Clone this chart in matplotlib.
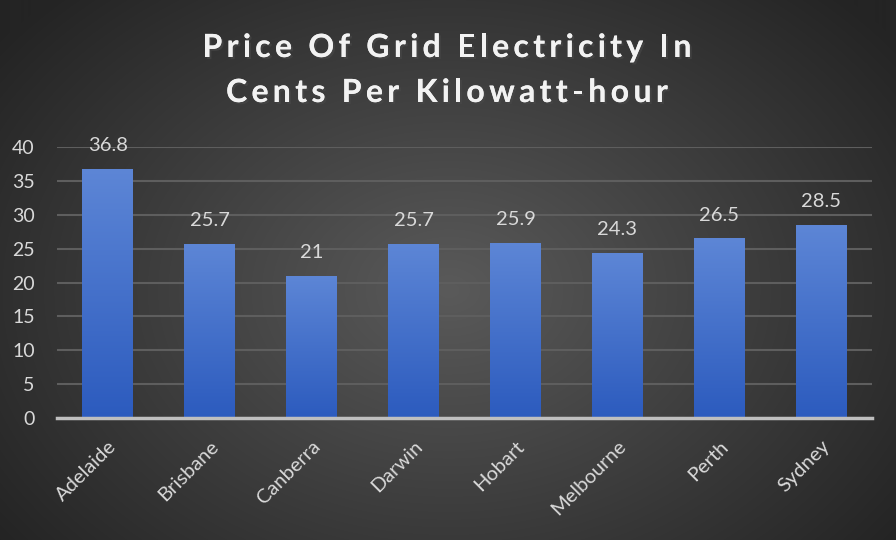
import numpy as np
import matplotlib.pyplot as plt
import matplotlib.patheffects as pe
from matplotlib.transforms import IdentityTransform

cities = ['Adelaide', 'Brisbane', 'Canberra', 'Darwin', 'Hobart', 'Melbourne', 'Perth', 'Sydney']
prices = [36.8, 25.7, 21, 25.7, 25.9, 24.3, 26.5, 28.5]
labels = ['36.8', '25.7', '21', '25.7', '25.9', '24.3', '26.5', '28.5']
yticks = [0, 5, 10, 15, 20, 25, 30, 35, 40]
title_lines = ['Price Of Grid Electricity In', 'Cents Per Kilowatt-hour']

plt.rcParams['font.family'] = ['Lato', 'DejaVu Sans']
txt = '#d9d9d9'

fig = plt.figure(figsize=(8.96, 5.4), dpi=100)

# radial gradient background
bg = fig.add_axes([0, 0, 1, 1])
yy, xx = np.mgrid[0:540, 0:896]
r = np.sqrt(((xx - 448) / 448.0) ** 2 + ((yy - 290) / 330.0) ** 2)
r = np.clip(r / 1.25, 0, 1)
c0 = np.array([0x5a, 0x5a, 0x5a]) / 255.0
c1 = np.array([0x24, 0x24, 0x24]) / 255.0
img = c0[None, None, :] * (1 - r[..., None]) + c1[None, None, :] * r[..., None]
bg.imshow(img, aspect='auto', extent=[0, 1, 0, 1])
bg.axis('off')

ax = fig.add_axes([57 / 896, 1 - 418 / 540, 815 / 896, 271 / 540])
ax.patch.set_alpha(0)
x = np.arange(len(cities))
bars = ax.bar(x, prices, width=0.5, color='none', zorder=3)

grad = np.linspace(0, 1, 256)[:, None]
top = np.array([0x5d, 0x86, 0xd6]) / 255.0
bot = np.array([0x2c, 0x5b, 0xbe]) / 255.0
gimg = top[None, None, :] * (1 - grad[..., None]) + bot[None, None, :] * grad[..., None]
for b in bars:
    bx, by = b.get_x(), b.get_y()
    w, h = b.get_width(), b.get_height()
    im = ax.imshow(gimg, extent=[bx, bx + w, by, by + h], aspect='auto', zorder=3)
    im.set_clip_path(b)

for xi, v, lab in zip(x, prices, labels):
    ax.text(xi, v + 2.2, lab, ha='center', va='bottom', color=txt, fontsize=14.5)

ax.set_xlim(-0.5, len(cities) - 0.5)
ax.set_ylim(0, 40)
ax.set_yticks(yticks)
ax.set_yticklabels([str(t) for t in yticks], color=txt, fontsize=14)
ax.set_xticks(x)
ax.set_xticklabels(cities, rotation=45, ha='right', va='top', rotation_mode='anchor',
                   color=txt, fontsize=14.5)
ax.tick_params(axis='y', length=0, pad=16)
ax.tick_params(axis='x', length=0, pad=14)
ax.grid(axis='y', color='#5e5e5e', linewidth=1.5, zorder=0)
ax.set_axisbelow(True)
for s in ['top', 'right', 'left']:
    ax.spines[s].set_visible(False)
ax.spines['bottom'].set_color('#bfbfbf')
ax.spines['bottom'].set_linewidth(2.5)
ax.spines['bottom'].set_zorder(4)

# title with letter spacing, drawn char by char in pixel coords
fig.canvas.draw()
rend = fig.canvas.get_renderer()
tkw = dict(fontsize=23, fontweight='bold', color='#f2f2f2')
track = 4.3


def char_w(ch):
    if ch == ' ':
        a = fig.text(0, 0, 'x x', **tkw)
        b = fig.text(0, 0, 'xx', **tkw)
        wv = a.get_window_extent(rend).width - b.get_window_extent(rend).width
        a.remove()
        b.remove()
        return wv
    t = fig.text(0, 0, ch, **tkw)
    wv = t.get_window_extent(rend).width
    t.remove()
    return wv


shadow = [pe.withSimplePatchShadow(offset=(1.5, -1.5), alpha=0.6), pe.Normal()]
for line, base in zip(title_lines, [540 - 57, 540 - 102]):
    widths = [char_w(c) for c in line]
    total = sum(widths) + track * (len(line) - 1)
    cx = 447 - total / 2
    for c, wv in zip(line, widths):
        if c != ' ':
            fig.text(cx, base, c, transform=IdentityTransform(), ha='left', va='baseline',
                     path_effects=shadow, **tkw)
        cx += wv + track

fig.savefig('out.png', dpi=100)
